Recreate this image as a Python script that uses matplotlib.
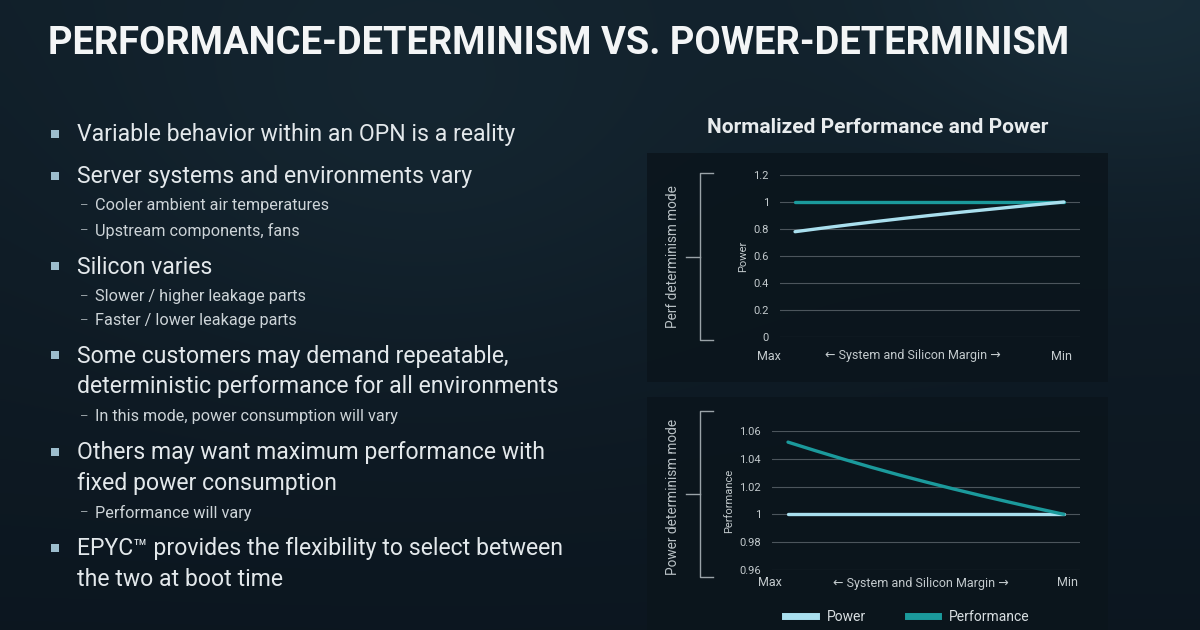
import matplotlib
matplotlib.use("Agg")
import matplotlib.pyplot as plt
import numpy as np
from matplotlib import font_manager
from matplotlib.lines import Line2D
from matplotlib.patches import Rectangle

# ---- data ----
margin_steps = list(range(11))
perf_mode_power = [0.78, 0.806, 0.831, 0.855, 0.878, 0.900, 0.921, 0.941, 0.961, 0.981, 1.0]
perf_mode_perf = [1.0] * 11
power_mode_power = [1.0] * 11
power_mode_perf = [1.052, 1.0458, 1.0398, 1.034, 1.0285, 1.0233, 1.0183, 1.0135, 1.0089, 1.0044, 1.0]

top_yticks = [0, 0.2, 0.4, 0.6, 0.8, 1, 1.2]
top_ylabels = ["0", "0.2", "0.4", "0.6", "0.8", "1", "1.2"]
bot_yticks = [0.96, 0.98, 1.0, 1.02, 1.04, 1.06]
bot_ylabels = ["0.96", "0.98", "1", "1.02", "1.04", "1.06"]

title = "PERFORMANCE-DETERMINISM VS. POWER-DETERMINISM"
chart_title = "Normalized Performance and Power"
bullets = [
    (0, ["Variable behavior within an OPN is a reality"], 135),
    (0, ["Server systems and environments vary"], 177),
    (1, ["Cooler ambient air temperatures"], 206),
    (1, ["Upstream components, fans"], 231),
    (0, ["Silicon varies"], 267),
    (1, ["Slower / higher leakage parts"], 297),
    (1, ["Faster / lower leakage parts"], 321),
    (0, ["Some customers may demand repeatable,", "deterministic performance for all environments"], 356),
    (1, ["In this mode, power consumption will vary"], 417),
    (0, ["Others may want maximum performance with", "fixed power consumption"], 453),
    (1, ["Performance will vary"], 513),
    (0, ["EPYC\u2122 provides the flexibility to select between", "the two at boot time"], 549),
]

POWER_C = "#a9dfee"
PERF_C = "#1b9a9c"
GRID_C = "#4c555c"
TEXT_C = "#e3e8eb"
SUB_C = "#cdd4d8"
TICK_C = "#c3cacd"

names = {f.name for f in font_manager.fontManager.ttflist}
body = next((n for n in ["Liberation Sans Narrow", "DejaVu Sans Condensed", "Roboto"] if n in names), "DejaVu Sans")
FAM = [body, "DejaVu Sans"]

W, H = 1200, 630
fig = plt.figure(figsize=(12, 6.3), dpi=100)
renderer = fig.canvas.get_renderer()


def px(x, y):
    return x / W, 1 - y / H


def fit_size(s, target, **kw):
    t = fig.text(0, 0, s, fontsize=20, **kw)
    w = t.get_window_extent(renderer).width
    t.remove()
    return 20 * target / w


# ---- background ----
bg = fig.add_axes([0, 0, 1, 1])
yy, xx = np.mgrid[0:1:120j, 0:1:200j]
base = np.array([0.065, 0.12, 0.16])
glow = np.array([0.05, 0.09, 0.10])
shade = (0.6 * np.exp(-((xx - 0.95) ** 2 / 0.05 + (yy - 0.0) ** 2 / 0.08))
         + 0.35 * np.exp(-((xx - 0.35) ** 2 / 0.08 + (yy - 0.2) ** 2 / 0.15))
         - 0.35 * yy)
img = base[None, None, :] + shade[..., None] * glow[None, None, :]
bg.imshow(np.clip(img, 0, 1), extent=[0, W, H, 0], aspect="auto", interpolation="bicubic")
bg.set_xlim(0, W)
bg.set_ylim(H, 0)
bg.axis("off")

# chart panels
bg.add_patch(Rectangle((647, 153), 461, 229, color="#0b151c", alpha=0.85, lw=0))
bg.add_patch(Rectangle((647, 397), 461, 240, color="#0b151c", alpha=0.85, lw=0))

# brackets
for y0, y1 in [(173, 340), (411, 577)]:
    ym = (y0 + y1) / 2
    bg.plot([713, 700, 700, 713], [y0, y0, y1, y1], color="#9aa3a8", lw=1)
    bg.plot([686, 700], [ym, ym], color="#9aa3a8", lw=1)

# ---- title ----
ts = fit_size(title, 1022, family=FAM, weight="bold")
fig.text(*px(48, 44), title, fontsize=ts, family=FAM, weight="bold",
         color="#f3f5f6", va="center", ha="left")

# ---- bullets ----
bs = fit_size(bullets[0][1][0], 436, family=FAM)
ss = fit_size("Cooler ambient air temperatures", 233, family=FAM)
for level, lines, y in bullets:
    if level == 0:
        bg.add_patch(Rectangle((51, y - 5), 8, 8, color="#9cbdcd", lw=0))
        for i, line in enumerate(lines):
            fig.text(*px(77, y + i * 30.5), line, fontsize=bs, family=FAM,
                     color=TEXT_C, va="center", ha="left")
    else:
        fig.text(*px(80, y), "\u2013", fontsize=ss * 0.8, family=FAM,
                 color="#9aa3a8", va="center", ha="left")
        fig.text(*px(95, y), lines[0], fontsize=ss, family=FAM,
                 color=SUB_C, va="center", ha="left")

# ---- chart title ----
cs = fit_size(chart_title, 340, family=FAM, weight="bold")
fig.text(*px(878, 128), chart_title, fontsize=cs, family=FAM, weight="bold",
         color="#e8ecee", ha="center", va="center")

# mode labels
ms = fit_size("Perf determinism mode", 142, family=FAM)
fig.text(*px(673, 257), "Perf determinism mode", fontsize=ms, family=FAM,
         color="#b9c1c5", rotation=90, ha="center", va="center")
fig.text(*px(673, 497), "Power determinism mode", fontsize=ms, family=FAM,
         color="#b9c1c5", rotation=90, ha="center", va="center")


def style_axes(ax, yticks, ylabels, ylim, xlim):
    ax.set_facecolor("none")
    ax.set_xlim(*xlim)
    ax.set_ylim(*ylim)
    ax.set_yticks(yticks)
    ax.set_yticklabels(ylabels, fontsize=8, color=TICK_C, family=FAM)
    ax.set_xticks([])
    ax.tick_params(axis="y", length=0, pad=8)
    ax.grid(axis="y", color=GRID_C, lw=0.8)
    ax.set_axisbelow(True)
    for s in ax.spines.values():
        s.set_visible(False)


# ---- top chart ----
ax1 = fig.add_axes([780 / W, (H - 337) / H, 300 / W, 162 / H])
style_axes(ax1, top_yticks, top_ylabels, (0, 1.2), (-0.56, 10.6))
ax1.plot(margin_steps, perf_mode_perf, color=PERF_C, lw=2.4, solid_capstyle="round")
ax1.plot(margin_steps, perf_mode_power, color=POWER_C, lw=2.4, solid_capstyle="round")
ax1.set_ylabel("Power", fontsize=8, color=TICK_C, family=FAM, labelpad=4)

# ---- bottom chart ----
ax2 = fig.add_axes([772 / W, (H - 570) / H, 308 / W, 139 / H])
style_axes(ax2, bot_yticks, bot_ylabels, (0.96, 1.06), (-0.58, 10.58))
ax2.plot(margin_steps, power_mode_power, color=POWER_C, lw=2.4, solid_capstyle="round")
ax2.plot(margin_steps, power_mode_perf, color=PERF_C, lw=2.4, solid_capstyle="round")
ax2.set_ylabel("Performance", fontsize=8, color=TICK_C, family=FAM, labelpad=4)

# x labels
for y, xs in [(356, (769, 913, 1061)), (583, (770, 921, 1068))]:
    for x, s in zip(xs, ["Max", "\u2190 System and Silicon Margin \u2192", "Min"]):
        fig.text(*px(x, y), s, fontsize=9, family=FAM, color=TICK_C,
                 ha="center", va="center")

handles = [Line2D([], [], color=POWER_C, lw=5), Line2D([], [], color=PERF_C, lw=5)]
leg = ax2.legend(handles, ["Power", "Performance"], loc="center",
                 bbox_to_anchor=(0.44, -0.34), ncol=2, frameon=False,
                 handlelength=2.2, columnspacing=3, prop={"family": FAM, "size": 10})
for t in leg.get_texts():
    t.set_color("#d8dee1")

fig.savefig("out.png", dpi=100)
